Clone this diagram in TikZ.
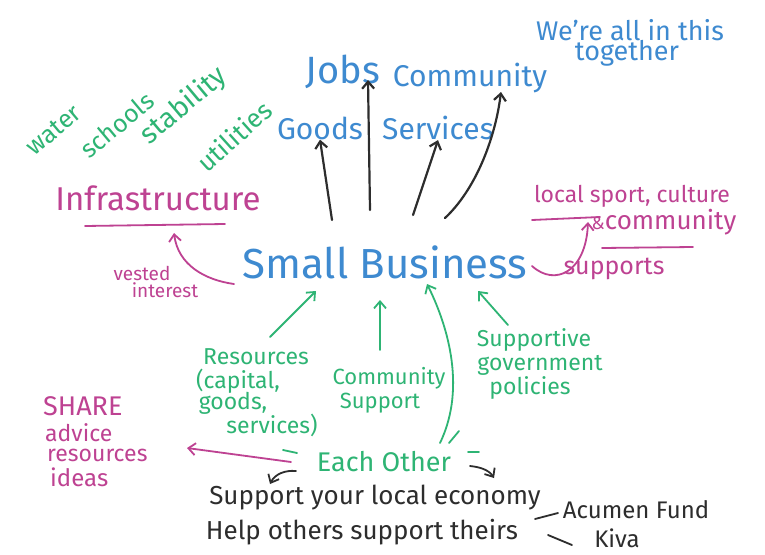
\documentclass[tikz,border=0pt]{standalone}
\usepackage{fontspec}
\setmainfont{Fira Sans}
\usetikzlibrary{arrows.meta}
\definecolor{bluemk}{RGB}{62,138,208}
\definecolor{greenmk}{RGB}{46,180,116}
\definecolor{magmk}{RGB}{190,66,146}
\definecolor{inkmk}{RGB}{45,45,45}
\newcommand{\fs}[1]{\fontsize{#1}{#1}\selectfont}
\tikzset{
  bluetxt/.style={text=bluemk,font=\fs{30},inner sep=0pt},
  greentxt/.style={text=greenmk,font=\fs{23},inner sep=0pt},
  magtxt/.style={text=magmk,font=\fs{23},inner sep=0pt},
  inktxt/.style={text=inkmk,font=\fs{26},inner sep=0pt},
  mk/.style={line width=1.8pt,line cap=round},
  inkarrow/.style={mk,draw=inkmk,line width=2.2pt,-{Straight Barb[length=7pt,width=12pt]}},
  greenarrow/.style={mk,draw=greenmk,-{Straight Barb[length=7pt,width=12pt]}},
  magarrow/.style={mk,draw=magmk,-{Straight Barb[length=7pt,width=12pt]}},
  magline/.style={mk,draw=magmk},
}
\begin{document}
\begin{tikzpicture}[x=1pt,y=-1pt]
\useasboundingbox (0,0) rectangle (765,554);
\fill[white] (0,0) rectangle (765,554);

\node[bluetxt,font=\fs{42}] (biz) at (385,262) {Small Business};
\node[bluetxt,font=\fs{38}] (jobs) at (343,72) {Jobs};
\node[bluetxt] (comm) at (470,78) {Community};
\node[bluetxt] (goods) at (320,128) {Goods};
\node[bluetxt] (serv) at (438,128) {Services};
\node[bluetxt,font=\fs{27}] (allin) at (630,30) {We're all in this};
\node[bluetxt,font=\fs{27}] (together) at (627,53) {together};

\node[greentxt,font=\fs{25},rotate=40] (water) at (54,130) {water};
\node[greentxt,font=\fs{25},rotate=40] (schools) at (117,125) {schools};
\node[greentxt,font=\fs{28},rotate=40] (stab) at (184,106) {stability};
\node[greentxt,font=\fs{26},rotate=42] (util) at (234,136) {utilities};

\node[magtxt,font=\fs{33}] (infra) at (158,198) {Infrastructure};
\node[magtxt,font=\fs{19}] (vested) at (142,273) {vested};
\node[magtxt,font=\fs{19}] (interest) at (165,290) {interest};
\node[magtxt,font=\fs{23}] (sport) at (632,196) {local sport, culture};
\node[magtxt,font=\fs{26}] (commty) at (664,222) {{\fs{18}\&}community};
\node[magtxt,font=\fs{25}] (supports) at (614,269) {supports};

\node[greentxt] (res) at (256,357) {Resources};
\node[greentxt] (capital) at (238,381) {(capital,};
\node[greentxt] (goodsb) at (233,403) {goods,};
\node[greentxt] (servb) at (272,425) {services)};
\node[greentxt,font=\fs{22}] (cs1) at (389,378) {Community};
\node[greentxt,font=\fs{22}] (cs2) at (380,403) {Support};
\node[greentxt] (sup1) at (534,340) {Supportive};
\node[greentxt] (sup2) at (540,365) {government};
\node[greentxt] (sup3) at (530,388) {policies};
\node[greentxt,font=\fs{27}] (each) at (384,462) {Each Other};

\node[magtxt,font=\fs{27},anchor=west] (share) at (43,406) {SHARE};
\node[magtxt,anchor=west] (advice) at (45,433) {advice};
\node[magtxt,anchor=west] (resrc) at (47,455) {resources};
\node[magtxt,font=\fs{24},anchor=west] (ideas) at (50,477) {ideas};

\node[inktxt] (local) at (375,498) {Support your local economy};
\node[inktxt] (help) at (362,532) {Help others support theirs};
\node[inktxt,font=\fs{24}] (acumen) at (636,510) {Acumen Fund};
\node[inktxt,font=\fs{24}] (kiva) at (617,538) {Kiva};

\coordinate (bizG) at (332,220);
\coordinate (bizJ) at (370,210);
\coordinate (bizS) at (413,215);
\coordinate (bizC) at (445,218);
\coordinate (jobsEnd) at (368,80);
\coordinate (commEnd) at (501,92);
\draw[inkarrow] (bizG) -- (goods.south);
\draw[inkarrow] (bizJ) -- (jobsEnd);
\draw[inkarrow] (bizS) -- (serv.south);
\draw[inkarrow] (bizC) .. controls (475,190) and (495,140) .. (commEnd);

\coordinate (infraL) at (85,226);
\coordinate (infraR) at (225,224);
\draw[magline] (infraL) -- (infraR);
\coordinate (bizW) at (234,284);
\coordinate (infraUp) at (174,233);
\draw[magarrow] (bizW) .. controls (205,280) and (178,265) .. (infraUp);

\coordinate (sportL) at (532,220);
\coordinate (sportR) at (600,217);
\draw[magline] (sportL) -- (sportR);
\coordinate (commL) at (602,248);
\coordinate (commR) at (693,247);
\draw[magline] (commL) -- (commR);
\coordinate (bizE) at (532,266);
\coordinate (sportUp) at (588,222);
\draw[magarrow] (bizE) .. controls (555,287) and (586,272) .. (sportUp);

\coordinate (resTop) at (270,337);
\coordinate (bizR) at (316,291);
\draw[greenarrow] (resTop) -- (bizR);
\coordinate (csTop) at (380,350);
\coordinate (bizCS) at (380,300);
\draw[greenarrow] (csTop) -- (bizCS);
\coordinate (eachTop) at (440,443);
\coordinate (bizEO) at (427,284);
\draw[greenarrow] (eachTop) .. controls (468,385) and (445,320) .. (bizEO);
\coordinate (supTop) at (508,325);
\coordinate (bizSP) at (478,291);
\draw[greenarrow] (supTop) -- (bizSP);
\draw[mk,draw=greenmk] (449,443) -- (459,431);
\draw[mk,draw=greenmk] (283,450) -- (297,453);
\draw[mk,draw=greenmk] (468,452) -- (479,452);

\coordinate (eachL) at (291,462);
\coordinate (shareEnd) at (187,448);
\draw[magarrow] (eachL) -- (shareEnd);
\coordinate (eachBL) at (296,471);
\coordinate (localL) at (270,484);
\draw[inkarrow,line width=1.8pt] (eachBL) .. controls (285,470) and (275,474) .. (localL);
\coordinate (eachBR) at (470,466);
\coordinate (localR) at (494,478);
\draw[inkarrow,line width=1.8pt] (eachBR) .. controls (480,467) and (489,470) .. (localR);

\coordinate (helpE) at (535,519);
\coordinate (acumenW) at (558,513);
\draw[mk,draw=inkmk] (helpE) -- (acumenW);
\coordinate (helpE2) at (548,535);
\coordinate (kivaW) at (572,545);
\draw[mk,draw=inkmk] (helpE2) -- (kivaW);
\end{tikzpicture}
\end{document}
